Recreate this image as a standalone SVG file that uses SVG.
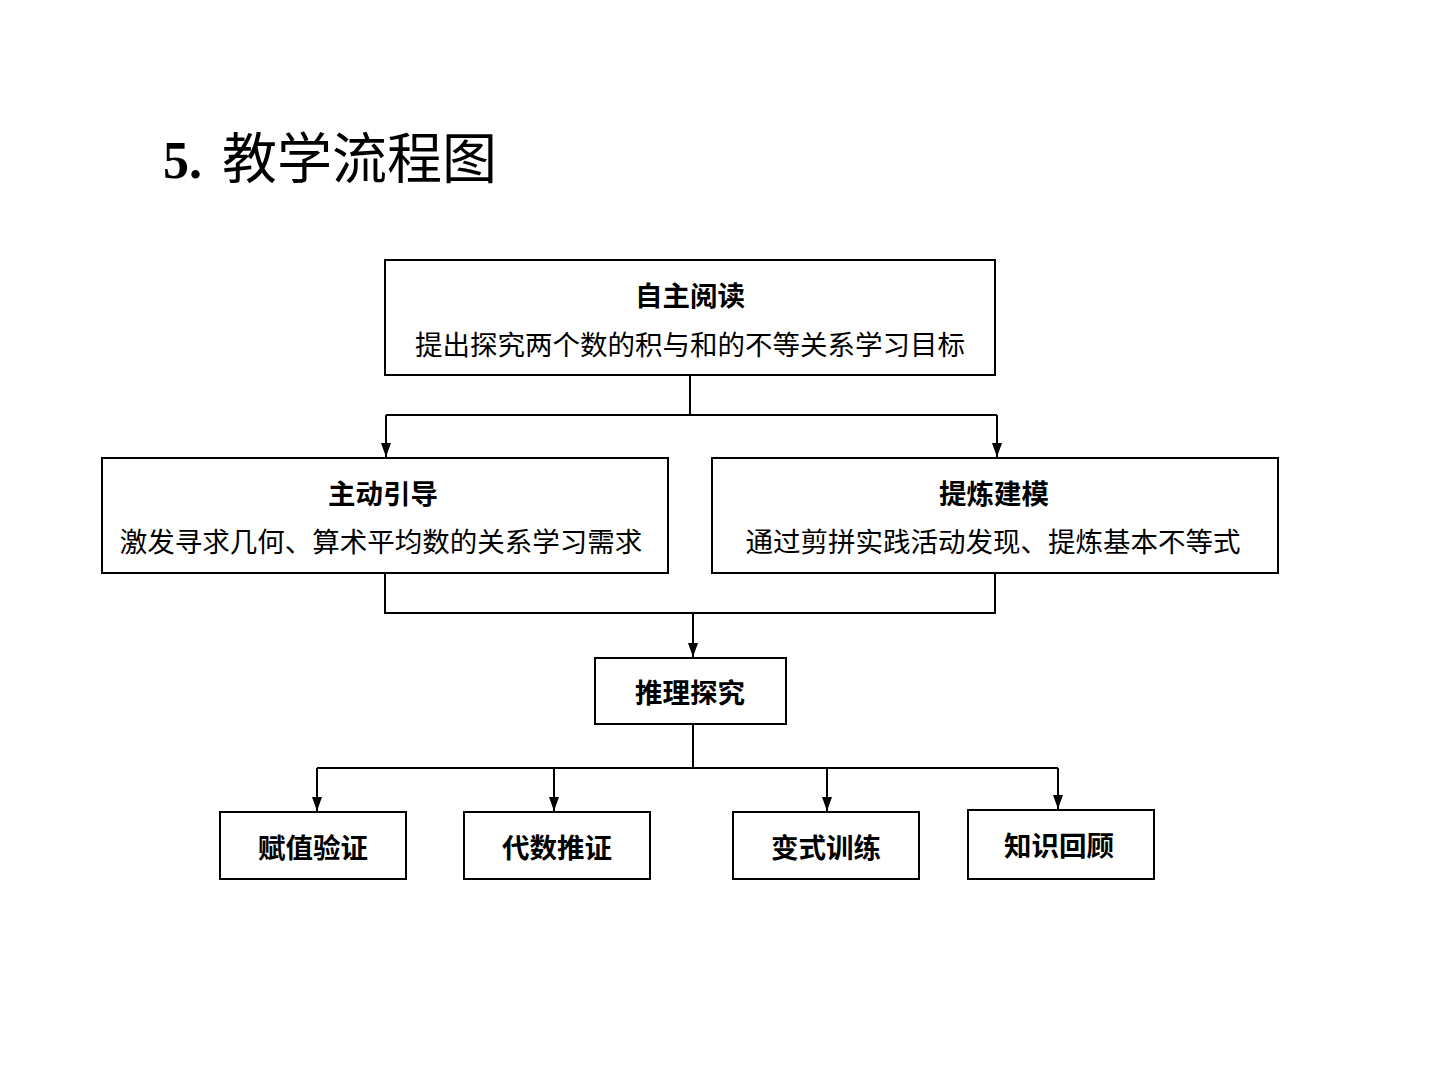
<svg xmlns="http://www.w3.org/2000/svg" width="1440" height="1080" viewBox="0 0 1440 1080">
<style>
.box{fill:#fff;stroke:#000;stroke-width:2}
.t{font-family:"Noto Sans CJK SC",sans-serif;font-size:27.5px;text-anchor:middle;fill:#000}
.b{font-weight:bold}
.ln{fill:none;stroke:#000;stroke-width:2}
</style>
<defs>
<marker id="ah" viewBox="0 0 14 10" refX="14" refY="5" markerWidth="14" markerHeight="10" markerUnits="userSpaceOnUse" orient="auto">
<path d="M0,0 L14,5 L0,10 Z" fill="#000"/>
</marker>
</defs>
<rect width="1440" height="1080" fill="#fff"/>
<text x="163" y="178" font-family="'Liberation Serif',serif" font-weight="bold" font-size="52">5.</text>
<text x="222" y="178" font-family="'Noto Sans CJK SC',sans-serif" font-size="55">教学流程图</text>
<g id="connectors">
<path class="ln" d="M690,375 V415 M386,415 H997"/>
<path class="ln" d="M386,415 V457" marker-end="url(#ah)"/>
<path class="ln" d="M997,415 V457" marker-end="url(#ah)"/>
<path class="ln" d="M385,573 V613 H995 V573"/>
<path class="ln" d="M693,613 V657" marker-end="url(#ah)"/>
<path class="ln" d="M693,724 V768 M317,768 H1058"/>
<path class="ln" d="M317,768 V811" marker-end="url(#ah)"/>
<path class="ln" d="M554,768 V811" marker-end="url(#ah)"/>
<path class="ln" d="M827,768 V811" marker-end="url(#ah)"/>
<path class="ln" d="M1058,768 V809" marker-end="url(#ah)"/>
</g>
<g id="n1"><rect class="box" x="385" y="260" width="610" height="115"/>
<text class="t b" x="690" y="306">自主阅读</text>
<text class="t" x="690" y="355">提出探究两个数的积与和的不等关系学习目标</text></g>
<g id="n2"><rect class="box" x="102" y="458" width="566" height="115"/>
<text class="t b" x="383" y="504">主动引导</text>
<text class="t" x="381" y="552">激发寻求几何、算术平均数的关系学习需求</text></g>
<g id="n3"><rect class="box" x="712" y="458" width="566" height="115"/>
<text class="t b" x="994" y="504">提炼建模</text>
<text class="t" x="993" y="552">通过剪拼实践活动发现、提炼基本不等式</text></g>
<g id="n4"><rect class="box" x="595" y="658" width="191" height="66"/>
<text class="t b" x="690" y="703">推理探究</text></g>
<g id="n5"><rect class="box" x="220" y="812" width="186" height="67"/>
<text class="t b" x="313" y="858">赋值验证</text></g>
<g id="n6"><rect class="box" x="464" y="812" width="186" height="67"/>
<text class="t b" x="557" y="858">代数推证</text></g>
<g id="n7"><rect class="box" x="733" y="812" width="186" height="67"/>
<text class="t b" x="826" y="858">变式训练</text></g>
<g id="n8"><rect class="box" x="968" y="810" width="186" height="69"/>
<text class="t b" x="1059" y="856">知识回顾</text></g>
</svg>
